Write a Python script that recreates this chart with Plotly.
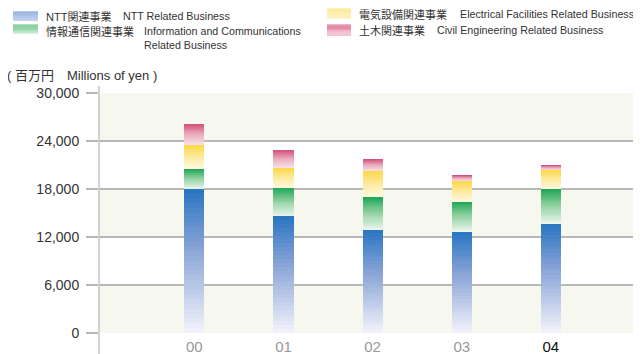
import plotly.graph_objects as go

# ---------------- data ----------------
years = ["00", "01", "02", "03", "04"]
ntt = [18000, 14625, 12875, 12625, 13625]
info = [2500, 3500, 4125, 3750, 4375]
elec = [3000, 2500, 3250, 2625, 2375]
civil = [2625, 2250, 1500, 750, 625]
y_ticks = [0, 6000, 12000, 18000, 24000, 30000]
y_ticktext = ["0", "6,000", "12,000", "18,000", "24,000", "30,000"]

series = [
    ("NTT関連事業", "NTT Related Business", ntt,
     [(0.0, "#f3f3fb"), (0.6, "#86a2d6"), (1.0, "#2775c1")],
     ("#6f96d6", "#c8d2ef")),
    ("情報通信関連事業", "Information and Communications<br>Related Business", info,
     [(0.0, "#eef7f0"), (0.55, "#8fd0a0"), (1.0, "#20a857")],
     ("#5cbf78", "#bce4c6")),
    ("電気設備関連事業", "Electrical Facilities Related Business", elec,
     [(0.0, "#fff9e6"), (0.55, "#fde99a"), (1.0, "#fcd848")],
     ("#fde070", "#fff4cc")),
    ("土木関連事業", "Civil Engineering Related Business", civil,
     [(0.0, "#f8e4ea"), (0.55, "#e9a9bb"), (1.0, "#d4517a")],
     ("#dc6a8e", "#f4cad6")),
]

# ---------------- helpers ----------------
def hex2rgb(h):
    h = h.lstrip("#")
    return [int(h[i:i + 2], 16) for i in (0, 2, 4)]

def interp(stops, t):
    for (t0, c0), (t1, c1) in zip(stops[:-1], stops[1:]):
        if t0 <= t <= t1:
            f = (t - t0) / (t1 - t0) if t1 > t0 else 0
            a, b = hex2rgb(c0), hex2rgb(c1)
            r = [round(a[i] + (b[i] - a[i]) * f) for i in range(3)]
            return "rgb(%d,%d,%d)" % tuple(r)
    return stops[-1][1]

# page has an 8px body margin; figure is sized to fill the rest of the window
OFF = 8
WIN_W, WIN_H = 641, 354
FIG_W, FIG_H = WIN_W - OFF, WIN_H - OFF
# plot area in window pixels
L, R, T, B = 99, 640, 93, 333

def px(x):
    return (x - L) / (R - L)

def py(y):
    return (B - y) / (B - T)

FONT_EN = "Liberation Sans, Arial, Noto Sans CJK JP, sans-serif"
TXT = "#333333"

fig = go.Figure()
K = 30
xs = list(range(len(years)))
for jp, en, vals, stops, sw in series:
    for k in range(K):
        t = (k + 0.5) / K
        fig.add_trace(go.Bar(
            x=xs, y=[v / K for v in vals], width=0.225,
            marker=dict(color=interp(stops, t), line=dict(width=0)),
            showlegend=False, hoverinfo="skip", name=en,
        ))

# alternating background bands
shapes = []
for i in range(0, len(y_ticks) - 1, 2):
    shapes.append(dict(type="rect", xref="paper", yref="y", x0=0, x1=1,
                       y0=y_ticks[i], y1=y_ticks[i + 1],
                       fillcolor="#f6f7ee", line=dict(width=0), layer="below"))
# frame lines extending below the axis
for xx in (0, 1):
    shapes.append(dict(type="line", xref="paper", yref="paper", x0=xx, x1=xx,
                       y0=py(WIN_H), y1=py(86), line=dict(color="#c4c4c4", width=1.5)))

annotations = []
# legend: swatch box (x0,x1,y0,y1), jp text x, en text x, text center y
legend_items = [
    (13, 38, 11.5, 21, 45, 122, 16, series[0]),
    (13, 38, 24.5, 33.5, 45, 143, 31, series[1]),
    (327, 351, 8.5, 19, 358, 459, 14.5, series[2]),
    (327, 351, 24.5, 36, 358, 436, 30.5, series[3]),
]
for x0, x1, y0, y1, tj, te, ty, (jp, en, vals, stops, sw) in legend_items:
    n = 10
    for k in range(n):
        ya = y0 + (y1 - y0) * k / n
        yb = y0 + (y1 - y0) * (k + 1) / n
        t = (k + 0.5) / n
        shapes.append(dict(type="rect", xref="paper", yref="paper",
                           x0=px(x0), x1=px(x1), y0=py(yb), y1=py(ya),
                           fillcolor=interp([(0, sw[0]), (1, sw[1])], t),
                           line=dict(width=0), layer="above"))
    annotations.append(dict(xref="paper", yref="paper", x=px(tj - 1), y=py(ty),
                            xanchor="left", yanchor="middle", showarrow=False,
                            text=jp, font=dict(family=FONT_EN, size=11, color=TXT)))
    parts = en.split("<br>")
    for j, part in enumerate(parts):
        annotations.append(dict(xref="paper", yref="paper", x=px(te - 1), y=py(ty + 14 * j),
                                xanchor="left", yanchor="middle", showarrow=False,
                                text=part, font=dict(family=FONT_EN, size=10.7, color=TXT)))

# unit label
annotations.append(dict(xref="paper", yref="paper", x=px(5), y=py(75),
                        xanchor="left", yanchor="middle", showarrow=False,
                        text="( 百万円　Millions of yen )",
                        font=dict(family=FONT_EN, size=13, color=TXT)))

tick_colors = ["#999999"] * (len(years) - 1) + ["#111111"]
x_ticktext = ['<span style="color:%s">%s</span>' % (c, y) for c, y in zip(tick_colors, years)]

fig.update_layout(
    width=FIG_W, height=FIG_H,
    margin=dict(l=L - OFF, r=WIN_W - R, t=T - OFF, b=WIN_H - B, pad=0, autoexpand=False),
    paper_bgcolor="white", plot_bgcolor="white",
    barmode="stack", bargap=0,
    showlegend=False,
    shapes=shapes, annotations=annotations,
    font=dict(family=FONT_EN, color=TXT),
    xaxis=dict(range=[-1.07, 5.0], tickvals=xs, ticktext=x_ticktext,
               showgrid=False, zeroline=False, showline=False, ticks="",
               ticklabelstandoff=3, automargin=False,
               tickfont=dict(size=15, family=FONT_EN), fixedrange=True),
    yaxis=dict(range=[0, 30000], tickvals=y_ticks, ticktext=y_ticktext,
               showgrid=True, gridcolor="#b8b8b8", gridwidth=2,
               zeroline=False, showline=False,
               ticks="outside", ticklen=12, tickcolor="#b8b8b8", tickwidth=1.5,
               ticklabelstandoff=4, automargin=False,
               tickfont=dict(size=14, family=FONT_EN, color=TXT),
               fixedrange=True),
)

fig.write_html("out.html")
